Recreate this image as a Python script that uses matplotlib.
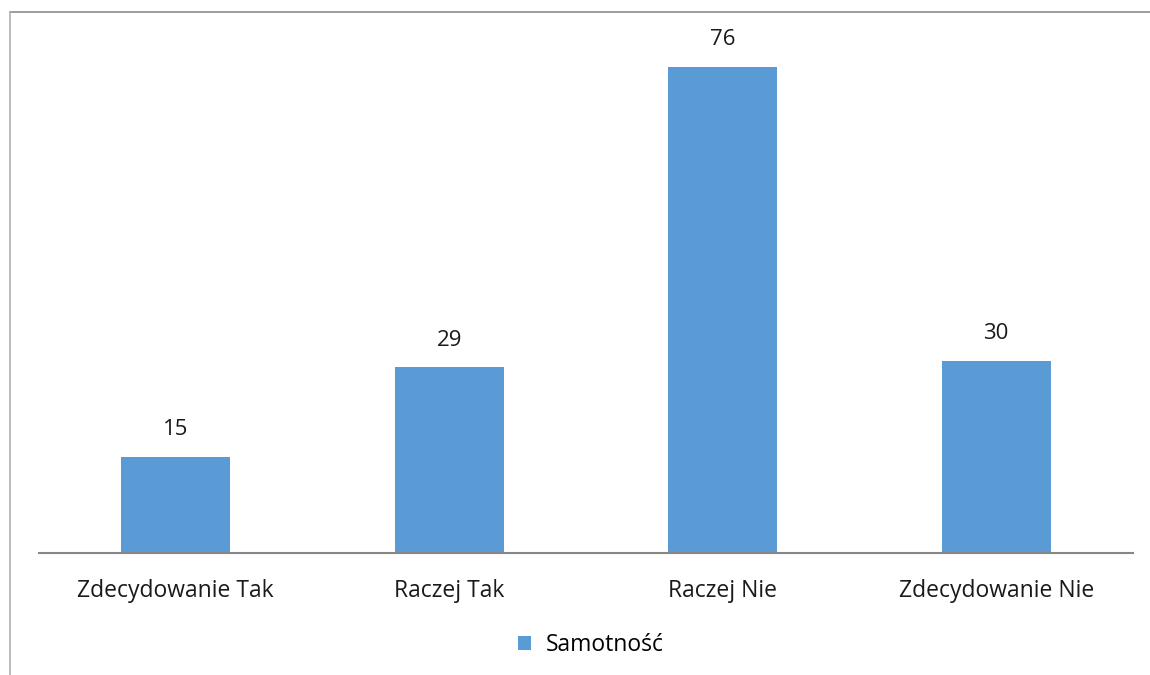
import matplotlib.pyplot as plt
from matplotlib.lines import Line2D

kategorie = ["Zdecydowanie Tak", "Raczej Tak", "Raczej Nie", "Zdecydowanie Nie"]
wartosci = [15, 29, 76, 30]
seria = "Samotność"

plt.rcParams['font.family'] = ['Open Sans', 'DejaVu Sans']

fig = plt.figure(figsize=(11.5, 6.75), dpi=100)
ax = fig.add_axes([39 / 1150, 1 - 553 / 675, (1133 - 39) / 1150, 510 / 675])

x = range(len(kategorie))
slupki = ax.bar(x, wartosci, width=0.40, color="#5B9BD5", label=seria)
ax.bar_label(slupki, padding=12, fontsize=16, color="#1a1a1a")

ax.set_xlim(-0.5, len(kategorie) - 0.5)
ax.set_ylim(0, 79.7)
ax.set_xticks(list(x))
ax.set_xticklabels(kategorie, fontsize=16.5, color="#1a1a1a")
ax.tick_params(axis="x", length=0, pad=19)
ax.set_yticks([])
for s in ["top", "right", "left"]:
    ax.spines[s].set_visible(False)
ax.spines["bottom"].set_color("#868686")
ax.spines["bottom"].set_linewidth(1.5)

# ramka wykresu (gora i lewa strona)
fig.add_artist(Line2D([10 / 1150, 1], [1 - 12 / 675] * 2, color="#8c8c8c", lw=1.2))
fig.add_artist(Line2D([10 / 1150] * 2, [0, 1 - 12 / 675], color="#b0b0b0", lw=1.2))

fig.legend(loc="center", bbox_to_anchor=(591 / 1150, 1 - 645 / 675), frameon=False,
           fontsize=16.5, handlelength=0.55, handleheight=0.55, handletextpad=0.65)

fig.savefig("out.png", dpi=100)
